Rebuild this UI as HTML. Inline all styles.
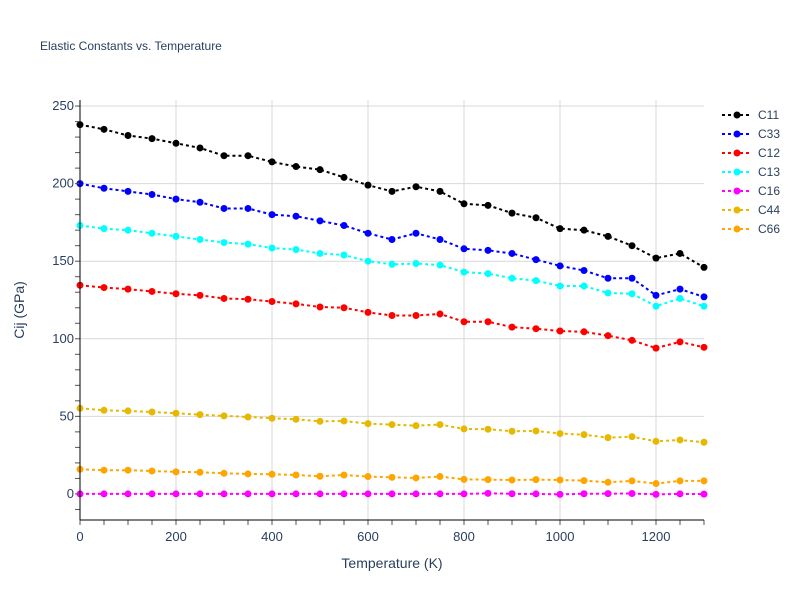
<!DOCTYPE html>
<html><head><meta charset="utf-8"><style>
body{margin:0;background:#fff;font-family:"Liberation Sans",sans-serif}
svg text{font-family:"Liberation Sans",sans-serif}
</style></head><body>
<svg id="chart" width="800" height="600" xmlns="http://www.w3.org/2000/svg">
<rect width="800" height="600" fill="#fff"/>
<text x="40" y="50" font-size="12" fill="#2a3f5f">Elastic Constants vs. Temperature</text>
<g id="grid"></g><g id="series"></g><g id="axes"></g><g id="legend"></g>
<text x="392" y="568" font-size="14" fill="#2a3f5f" text-anchor="middle">Temperature (K)</text>
<text transform="translate(24,310) rotate(-90)" font-size="14" fill="#2a3f5f" text-anchor="middle">Cij (GPa)</text>
</svg>
<script>
const temps=[0,50,100,150,200,250,300,350,400,450,500,550,600,650,700,750,800,850,900,950,1000,1050,1100,1150,1200,1250,1300];
const c11=[238,235,231,229,226,223,218,218,214,211,209,204,199,195,198,195,187,186,181,178,171,170,166,160,152,155,146];
const c33=[200,197,195,193,190,188,184,184,180,179,176,173,168,164,168,164,158,157,155,151,147,144,139,139,128,132,127];
const c12=[134.5,133,132,130.5,129,128,126,125.5,124,122.5,120.5,120,117,115,115,116,111,111,107.5,106.5,105,104.5,102,99,94,98,94.5];
const c13=[173,171,170,168,166,164,162,161,158.5,157.5,155,154,150,148,148.5,147.5,143,142,139,137.5,134,134,129.5,129,121,126,121];
const c16=[0,0,0,0,0,0,0,0,0,0,0,0,0,0,0,0,0,0.4,0.1,0,-0.3,0.1,0.2,0.3,-0.3,0,-0.1];
const c44=[55.2,53.9,53.5,52.8,52,51.1,50.3,49.6,48.8,48.1,46.8,47,45.3,44.7,44,44.7,41.9,41.7,40.4,40.6,38.9,38.2,36.3,36.9,33.9,34.8,33.3];
const c66=[15.9,15.3,15.3,14.8,14.2,14,13.3,12.9,12.7,12.2,11.4,12.2,11.2,10.7,10.3,11.2,9.4,9.2,9,9.2,9,8.6,7.5,8.4,6.7,8.4,8.4];
const seriesNames=["C11","C33","C12","C13","C16","C44","C66"];
const seriesColors=["#000000","#0000ff","#ff0000","#00ffff","#ff00ff","#e6b800","#ffa500"];
const xTicks=[0,200,400,600,800,1000,1200];
const yTicks=[0,50,100,150,200,250];
const allData=[c11,c33,c12,c13,c16,c44,c66];
const NS="http://www.w3.org/2000/svg";
const X0=80,X1=704,Y0=520,Y1=100,xmin=0,xmax=1300,ymin=-16.8,ymax=253.9;
const sx=v=>X0+(v-xmin)/(xmax-xmin)*(X1-X0);
const sy=v=>Y0-(v-ymin)/(ymax-ymin)*(Y0-Y1);
function mk(tag,attrs,parent){const e=document.createElementNS(NS,tag);for(const k in attrs)e.setAttribute(k,attrs[k]);parent.appendChild(e);return e;}
const grid=document.getElementById('grid'),axes=document.getElementById('axes'),ser=document.getElementById('series'),leg=document.getElementById('legend');
xTicks.forEach(t=>{
 const l=mk('line',{x1:sx(t),x2:sx(t),y1:Y1,y2:Y0,stroke:'#d9d9d9','stroke-width':1},grid);
 
 
 const tx=mk('text',{x:sx(t),y:Y0+21,'font-size':13,fill:'#2a3f5f','text-anchor':'middle'},axes);
 tx.textContent=t;
 
 
});
yTicks.forEach(t=>{
 const l=mk('line',{x1:X0,x2:X1,y1:sy(t),y2:sy(t),stroke:'#d9d9d9','stroke-width':1},grid);
 
 
 const tx=mk('text',{x:X0-6,y:sy(t)+4,'font-size':13,fill:'#2a3f5f','text-anchor':'end'},axes);
 tx.textContent=t;
 
 
});
for(let v=-10;v<=250;v+=10){mk('line',{x1:X0-5,x2:X0,y1:sy(v),y2:sy(v),stroke:'#555','stroke-width':1},axes);}
for(let v=0;v<=1300;v+=50){mk('line',{x1:sx(v),x2:sx(v),y1:Y0,y2:Y0+5,stroke:'#555','stroke-width':1},axes);}
const ya=mk('line',{x1:X0,x2:X0,y1:Y1,y2:Y0,stroke:'#000','stroke-width':1},axes);


const xa=mk('line',{x1:X0,x2:X1,y1:Y0,y2:Y0,stroke:'#000','stroke-width':1},axes);


allData.forEach((d,i)=>{
 const g=mk('g',{},ser);
 
 
 const pts=d.map((v,j)=>sx(temps[j])+','+sy(v)).join(' ');
 mk('polyline',{points:pts,fill:'none',stroke:seriesColors[i],'stroke-width':2,'stroke-dasharray':'3,3'},g);
 d.forEach((v,j)=>{
  const c=mk('circle',{cx:sx(temps[j]),cy:sy(v),r:3.5,fill:seriesColors[i]},g);
  
  
 });
 const ly=115+i*19;
 const lg=mk('g',{},leg);
 
 
 mk('line',{x1:722,x2:752,y1:ly,y2:ly,stroke:seriesColors[i],'stroke-width':2,'stroke-dasharray':'3,3'},lg);
 mk('circle',{cx:737,cy:ly,r:3.5,fill:seriesColors[i]},lg);
 const t=mk('text',{x:758,y:ly+4,'font-size':12,fill:'#2a3f5f'},lg);
 t.textContent=seriesNames[i];
});
</script>
</body></html>
